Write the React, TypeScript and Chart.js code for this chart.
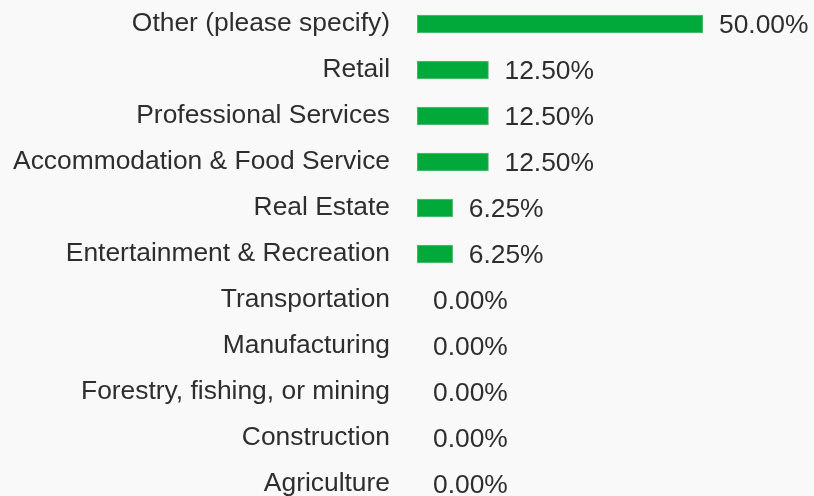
import React, { useEffect, useRef } from "react";
import { Chart, registerables } from "chart.js";

Chart.register(...registerables);

const categories = [
  "Other (please specify)",
  "Retail",
  "Professional Services",
  "Accommodation & Food Service",
  "Real Estate",
  "Entertainment & Recreation",
  "Transportation",
  "Manufacturing",
  "Forestry, fishing, or mining",
  "Construction",
  "Agriculture",
];

const percentages = [50.0, 12.5, 12.5, 12.5, 6.25, 6.25, 0, 0, 0, 0, 0];

const xMax = 50;

const FONT = "'Liberation Sans', Arial, Helvetica, sans-serif";
const TEXT = "#2e2e2e";
const FONT_SIZE = 26.4;

const valueLabels = {
  id: "valueLabels",
  afterDatasetsDraw(chart: any) {
    const ctx = chart.ctx;
    const meta = chart.getDatasetMeta(0);
    const data = chart.data.datasets[0].data as number[];
    ctx.save();
    ctx.font = `${FONT_SIZE}px ${FONT}`;
    ctx.fillStyle = TEXT;
    ctx.textAlign = "left";
    ctx.textBaseline = "middle";
    meta.data.forEach((el: any, i: number) => {
      const v = data[i];
      ctx.fillText(v.toFixed(2) + "%", el.x + 16, el.y + 2);
    });
    ctx.restore();
  },
};

export default function App() {
  const ref = useRef<HTMLCanvasElement | null>(null);

  useEffect(() => {
    if (!ref.current) return;
    const chart = new Chart(ref.current, {
      type: "bar",
      data: {
        labels: categories,
        datasets: [
          {
            data: percentages,
            backgroundColor: "#00a93a",
            borderColor: "#5cc077",
            borderWidth: 1,
            borderSkipped: false,
            barThickness: 18,
          },
        ],
      },
      options: {
        indexAxis: "y",
        animation: false,
        responsive: false,
        maintainAspectRatio: false,
        layout: { padding: { top: 1, bottom: 1, left: 0, right: 111 } },
        plugins: {
          legend: { display: false },
          tooltip: { enabled: false },
        },
        scales: {
          x: {
            display: false,
            min: 0,
            max: xMax,
          },
          y: {
            grid: { display: false, drawTicks: false },
            border: { display: false },
            ticks: {
              padding: 27,
              color: TEXT,
              font: { family: FONT, size: FONT_SIZE },
            },
            afterFit: (scale: any) => {
              scale.width = 417;
              scale.paddingTop = 0;
              scale.paddingBottom = 0;
            },
          },
        },
      },
      plugins: [valueLabels],
    });
    return () => chart.destroy();
  }, []);

  return (
    <div
      style={{
        position: "fixed",
        top: 0,
        left: 0,
        width: 814,
        height: 496,
        overflow: "hidden",
        background: "#f9f9f9",
      }}
    >
      <canvas ref={ref} width={814} height={508} style={{ display: "block" }} />
    </div>
  );
}
